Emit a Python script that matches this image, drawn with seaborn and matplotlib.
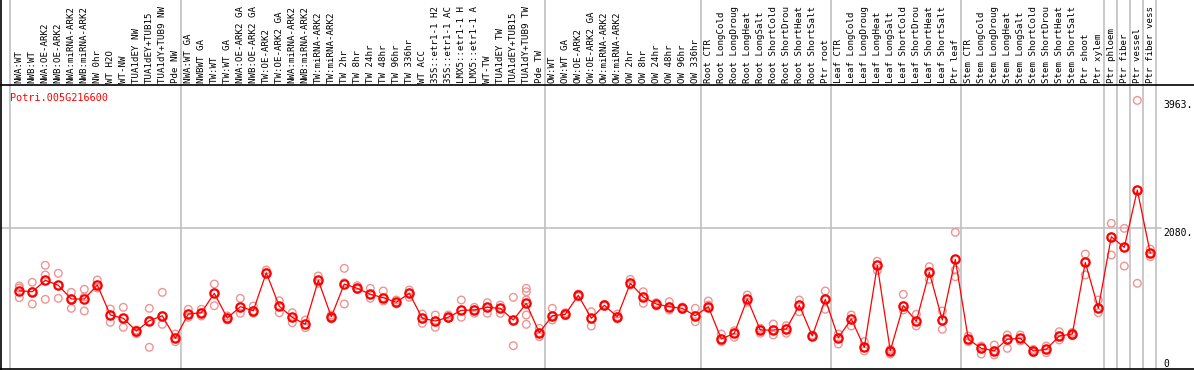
import matplotlib
matplotlib.use("Agg")
import matplotlib.pyplot as plt
import seaborn as sns
import pandas as pd
import numpy as np
from matplotlib.lines import Line2D

# ---------------- data ----------------
gene = "Potri.005G216600"

samples = [
    "NWA:WT", "NWB:WT", "NWA:OE-ARK2", "NWB:OE-ARK2", "NWA:miRNA-ARK2", "NWB:miRNA-ARK2",
    "NW 0hr", "WT H2O", "WT-NW", "TUA1dEY NW", "TUA1dEY+TUB15 NW", "TUA1dY+TUB9 NW", "Pde NW",
    "NWA:WT GA", "NWBWT GA", "TW:WT", "TW:WT GA", "NWA:OE-ARK2 GA", "NWB:OE-ARK2 GA",
    "TW:OE-ARK2", "TW:OE-ARK2 GA", "NWA:miRNA-ARK2", "NWB:miRNA-ARK2", "TW:miRNA-ARK2",
    "TW:miRNA-ARK2", "TW 2hr", "TW 8hr", "TW 24hr", "TW 48hr", "TW 96hr", "TW 336hr", "WT ACC",
    "35S::etr1-1 H2O", "35S::etr1-1 ACC", "LMX5::etr1-1 H2O", "LMX5::etr1-1 ACC", "WT-TW",
    "TUA1dEY TW", "TUA1dEY+TUB15 TW", "TUA1dY+TUB9 TW", "Pde TW",
    "OW:WT", "OW:WT GA", "OW:OE-ARK2", "OW:OE-ARK2 GA", "OW:miRNA-ARK2", "OW:miRNA-ARK2",
    "OW 2hr", "OW 8hr", "OW 24hr", "OW 48hr", "OW 96hr", "OW 336hr",
    "Root CTR", "Root LongCold", "Root LongDrought", "Root LongHeat", "Root LongSalt",
    "Root ShortCold", "Root ShortDrought", "Root ShortHeat", "Root ShortSalt", "Ptr root",
    "Leaf CTR", "Leaf LongCold", "Leaf LongDrought", "Leaf LongHeat", "Leaf LongSalt",
    "Leaf ShortCold", "Leaf ShortDrought", "Leaf ShortHeat", "Leaf ShortSalt", "Ptr leaf",
    "Stem CTR", "Stem LongCold", "Stem LongDrought", "Stem LongHeat", "Stem LongSalt",
    "Stem ShortCold", "Stem ShortDrought", "Stem ShortHeat", "Stem ShortSalt", "Ptr shoot",
    "Ptr xylem", "Ptr phloem", "Ptr fiber", "Ptr vessel", "Ptr fiber vessel",
]

group_sizes = [13, 28, 12, 10, 10, 11, 1, 1, 1, 1]

mean_values = [
    1155, 1140, 1308, 1235, 1033, 1033, 1239, 797, 748, 561, 712, 786, 453,
    811, 830, 1117, 752, 919, 860, 1420, 925, 763, 659, 1308, 771, 1254, 1190,
    1102, 1052, 984, 1117, 748, 708, 763, 866, 870, 910, 895, 723, 969, 535,
    786, 807, 1087, 748, 940, 771, 1264, 1062, 959, 919, 895, 786,
    919, 443, 527, 1033, 575, 575, 590, 940, 487, 1028,
    462, 738, 320, 1527, 270, 934, 704, 1426, 723, 1618,
    438, 305, 270, 438, 453, 266, 291, 487, 516, 1574,
    895, 1951, 1795, 2640, 1707,
]

replicates = [
    [1224, 1195, 1052], [1279, 1140, 959], [1530, 1387, 1028], [1412, 1235, 1043],
    [1131, 1033, 895], [1176, 1062, 856], [1313, 1239, 1195], [885, 797, 689],
    [910, 748, 615], [575, 535, 521], [895, 712, 320], [1131, 786, 659],
    [516, 453, 403],
    [881, 811, 763], [881, 830, 782], [1254, 1117, 934], [782, 752, 723],
    [1043, 919, 822], [929, 860, 822], [1460, 1420, 1412], [1007, 925, 830],
    [830, 763, 683], [723, 659, 609], [1372, 1308, 1264], [797, 771, 738],
    [1485, 1273, 959], [1229, 1190, 1176], [1190, 1102, 1043], [1151, 1052, 1003],
    [1018, 984, 959], [1165, 1117, 1058], [811, 748, 674], [797, 708, 615],
    [797, 763, 748], [1018, 866, 763], [910, 870, 822], [978, 910, 822],
    [944, 895, 822], [1058, 723, 344], [1190, 1140, 1018, 969, 797, 659],
    [600, 535, 476],
    [895, 786, 723], [830, 807, 786], [1106, 1087, 1066], [845, 748, 634],
    [954, 940, 929], [811, 771, 738], [1323, 1264, 1239], [1140, 1062, 969],
    [978, 959, 929], [993, 919, 870], [915, 895, 878], [895, 786, 698],
    [1003, 919, 944], [516, 443, 403], [565, 527, 468], [1092, 1033, 984],
    [600, 575, 527], [664, 575, 502], [639, 590, 527], [1018, 940, 845],
    [502, 487, 476], [1151, 1028, 881],
    [516, 462, 369], [797, 738, 634], [403, 320, 266], [1589, 1527, 1453],
    [291, 270, 221], [1102, 934, 870], [807, 704, 634], [1509, 1426, 1323],
    [856, 723, 586], [2016, 1460, 1361],
    [487, 438, 403], [339, 305, 221], [354, 270, 207], [502, 438, 305],
    [502, 453, 413], [288, 266, 243], [339, 291, 240], [550, 487, 428],
    [541, 516, 491], [1696, 1574, 1387],
    [1018, 895, 830], [2149, 1951, 1682], [2075, 1795, 1519], [3963, 2640, 1264],
    [1770, 1707, 1656],
]

ytick_values = [0, 2080, 3963]
ytick_labels = ["0", "2080.", "3963."]

label_chars = 14  # the label band only shows this many characters

# ---------------- frames ----------------
mean_df = pd.DataFrame({"idx": np.arange(len(samples)), "value": mean_values})
rep_rows = [(i, v) for i, reps in enumerate(replicates) for v in reps]
rep_df = pd.DataFrame(rep_rows, columns=["idx", "value"])

# ---------------- figure ----------------
sns.set_style("white")
plt.rcParams["font.family"] = ["DejaVu Sans Mono", "DejaVu Sans"]

W, H = 1194, 370
fig = plt.figure(figsize=(W / 100, H / 100), dpi=100)
ax_bottom_px, ax_top_px = 369, 85
ax = fig.add_axes([0, (H - ax_bottom_px) / H, 1, (ax_bottom_px - ax_top_px) / H])

x0_px, step_px = 19.3, 13.0
ax.set_xlim(-x0_px / step_px, (W - x0_px) / step_px)
ax.set_ylim(0, 4190)

GRAY = "#c0c0c0"
RED = "#ff0000"
PINK = "#ee9494"

# group separators, spanning full figure height
ext = ax_bottom_px / (ax_bottom_px - ax_top_px)
bounds = [-0.7]
acc = 0
for g in group_sizes:
    acc += g
    bounds.append(acc - 1 + 0.42)
for b in bounds:
    ax.axvline(b, ymin=0, ymax=ext, color=GRAY, lw=1.2, clip_on=False, zorder=0)

# grid line at 2080
ax.axhline(2080, xmin=0, xmax=1161 / W, color=GRAY, lw=1.2, zorder=0)

# replicates
sns.scatterplot(data=rep_df, x="idx", y="value", ax=ax, marker="o", s=30,
                facecolor="none", edgecolor=PINK, linewidth=1.0, zorder=2, legend=False)
# means
sns.lineplot(data=mean_df, x="idx", y="value", ax=ax, color=RED, lw=0.9,
             marker="o", markersize=6, markerfacecolor="none",
             markeredgecolor=RED, markeredgewidth=1.6, zorder=3, legend=False)

ax.set_xlabel("")
ax.set_ylabel("")
ax.set_xticks([])
ax.set_yticks([])
for s in ["left", "right"]:
    ax.spines[s].set_visible(False)
for s in ["top", "bottom"]:
    ax.spines[s].set_color("black")
    ax.spines[s].set_linewidth(1.2)

# left border line full height
fig.add_artist(Line2D([1.2 / W, 1.2 / W], [0, 1], color="black", lw=1.2))

# sample labels (band shows the first 14 characters)
for i, lab in enumerate(samples):
    ax.text(i, 1.008, lab[:label_chars].rstrip(), transform=ax.get_xaxis_transform(),
            rotation=90, ha="center", va="bottom", fontsize=6.6, color="black",
            clip_on=False)

# gene title
ax.text(10 / W, 1 - 8 / (ax_bottom_px - ax_top_px), gene, transform=ax.transAxes,
        ha="left", va="top", fontsize=7.3, color=RED)

# y tick labels on the right
for v, lab in zip(ytick_values, ytick_labels):
    ax.text(1163 / W, v, lab, transform=ax.get_yaxis_transform(), ha="left",
            va="bottom" if v == 0 else "top", fontsize=7, color="black")

fig.savefig("out.png", dpi=100)
